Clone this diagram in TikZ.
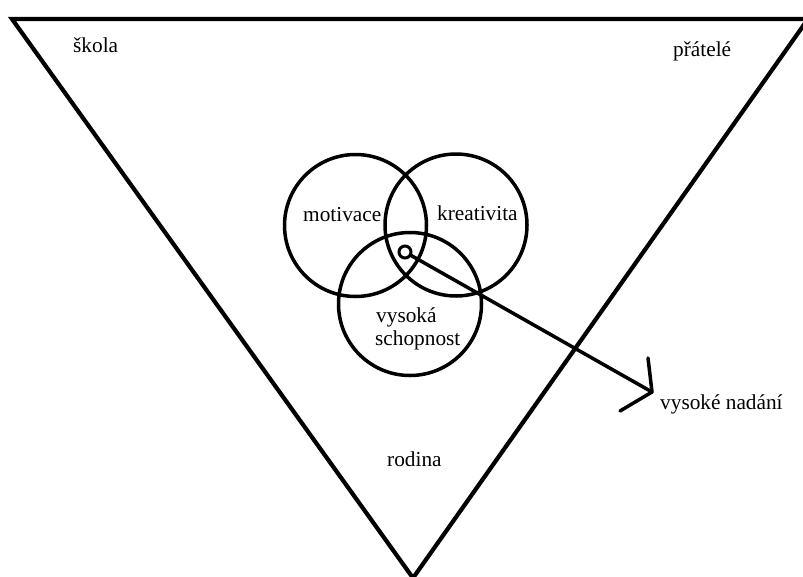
\documentclass[tikz,border=0pt]{standalone}
\usepackage{fontspec}
\setmainfont{Liberation Serif}
\begin{document}
\begin{tikzpicture}[x=1pt,y=-1pt,
  lbl/.style={anchor=base west,inner sep=0pt,font=\fontsize{21.3}{23}\selectfont},
  ring/.style={draw,circle,line width=3.5pt,inner sep=0pt,minimum size=#1},
  edge/.style={line width=4.2pt}]
\useasboundingbox (0,0) rectangle (803,576);
% triangle
\coordinate (tl) at (12,19);
\coordinate (tr) at (808,19);
\coordinate (bt) at (413,578);
\draw[edge,line join=miter] (tl) -- (tr) -- (bt) -- cycle;
% circles
\node[ring=142pt] (mot) at (355.5,225.5) {};
\node[ring=142pt] (kre) at (456,225) {};
\node[ring=143pt] (vys) at (410,304) {};
\node[ring=12pt,line width=3pt] (dot) at (405,252) {};
% labels
\node[lbl] (skola) at (73,52) {škola};
\node[lbl] (pratele) at (673,56) {přátelé};
\node[lbl] (motl) at (303,221) {motivace};
\node[lbl] (krel) at (437,220) {kreativita};
\node[lbl] (vysl1) at (376,322) {vysoká};
\node[lbl] (vysl2) at (375,345) {schopnost};
\node[lbl] (nad) at (660,409) {vysoké nadání};
\node[lbl] (rod) at (387,466) {rodina};
% arrow
\coordinate (tip) at (652,392);
\coordinate (h1) at (648,358);
\coordinate (h2) at (620,411);
\draw[line width=3.5pt,line cap=round] (dot) -- (tip);
\draw[line width=3.5pt,line cap=round,line join=round] (h1) -- (tip) -- (h2);
\end{tikzpicture}
\end{document}
